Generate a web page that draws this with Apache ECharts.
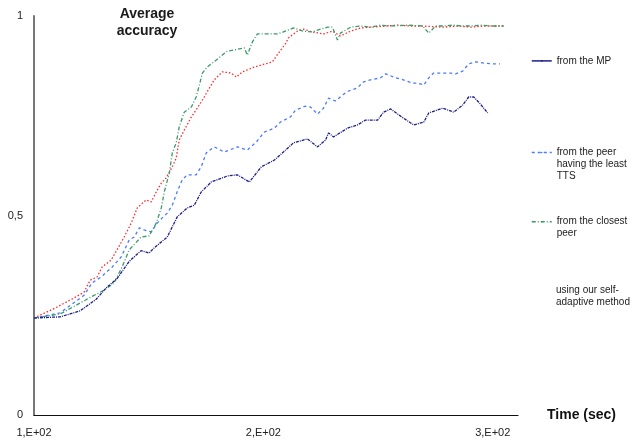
<!DOCTYPE html>
<html><head><meta charset="utf-8">
<script src="https://cdn.jsdelivr.net/npm/echarts@6/dist/echarts.min.js"></script>
<style>html,body{margin:0;padding:0;background:#fff}#c{width:636px;height:443px}</style>
</head><body><div id="c"></div>
<script>
const seriesNames = ['from the MP', 'from the peer having the least TTS', 'from the closest peer', 'using our self-adaptive method'];
const legendLabels = ['from the MP', 'from the peer\nhaving the least\nTTS', 'from the closest\npeer', 'using our self-\nadaptive method'];
const xTickLabels = ['1,E+02', '2,E+02', '3,E+02'];
const xTickValues = [100, 200, 300];
const yTickLabels = ['0', '0,5', '1'];
const yTickValues = [0, 0.5, 1];
const chartTitle = 'Average\naccuracy';
const xAxisName = 'Time (sec)';

const mpTime = [100,111.4,120.1,127.1,131.4,136.2,141.5,146.7,150.2,152.4,158.1,162.4,166.8,169.9,172.9,177.3,184.3,188.6,193.9,199.1,204.8,208.7,213.1,219.2,223.6,227.1,228.4,230.6,236.7,241.0,244.5,249.8,252.4,255.5,259.8,265.5,269.9,272.1,278.2,283.0,286.9,289.5,291.7,293.9,297.8];
const mpAcc = [0.243,0.246,0.261,0.290,0.318,0.342,0.385,0.412,0.406,0.419,0.446,0.496,0.519,0.526,0.559,0.584,0.599,0.602,0.584,0.622,0.639,0.659,0.682,0.692,0.672,0.689,0.707,0.697,0.719,0.727,0.739,0.739,0.759,0.767,0.749,0.727,0.734,0.757,0.769,0.759,0.777,0.797,0.797,0.784,0.757];

const ttsTime = [100,111.4,121.8,125.3,129.3,134.1,138.0,141.5,143.7,145.9,148.0,151.1,153.7,155.9,158.1,160.3,162.4,164.6,166.8,170.7,172.9,175.1,178.6,183.0,188.6,193.0,196.9,200.4,204.8,207.4,211.8,214.0,218.3,220.5,223.6,226.2,228.4,231.4,234.5,237.1,241.0,243.7,246.7,251.1,253.3,256.8,259.8,265.1,267.2,269.9,272.1,274.2,278.2,281.7,283.8,286.9,289.5,292.6,296.1,300.4,303.1];
const ttsAcc = [0.243,0.256,0.300,0.331,0.346,0.371,0.396,0.439,0.446,0.469,0.464,0.459,0.481,0.494,0.506,0.526,0.559,0.589,0.602,0.602,0.622,0.657,0.672,0.659,0.672,0.664,0.684,0.709,0.719,0.734,0.747,0.764,0.774,0.772,0.754,0.769,0.794,0.787,0.802,0.812,0.820,0.835,0.840,0.845,0.855,0.847,0.842,0.832,0.832,0.827,0.845,0.857,0.857,0.857,0.855,0.862,0.880,0.885,0.882,0.880,0.880];

const closeTime = [100,111.4,124.9,130.6,134.9,138.4,141.5,146.7,150.2,153.3,155.5,156.8,159.0,160.3,162.0,163.3,165.5,168.6,170.7,172.1,173.4,175.5,179.5,184.3,187.3,191.7,193.0,195.2,197.4,202.6,206.1,208.7,213.1,217.5,221.4,224.9,228.0,230.1,232.3,233.6,238.0,242.4,246.7,251.1,255.5,262.9,269.4,272.1,275.1,278.6,282.5,286.9,290.4,295.6,299.1,304.8];
const closeAcc = [0.243,0.253,0.296,0.313,0.331,0.371,0.414,0.446,0.449,0.481,0.519,0.559,0.607,0.657,0.682,0.722,0.759,0.772,0.797,0.827,0.857,0.872,0.890,0.912,0.915,0.920,0.902,0.935,0.955,0.955,0.955,0.960,0.970,0.962,0.960,0.967,0.972,0.972,0.940,0.957,0.972,0.975,0.972,0.977,0.975,0.977,0.975,0.957,0.975,0.975,0.977,0.975,0.975,0.977,0.975,0.975];

const selfTime = [100,109.2,118.3,121.8,124.5,127.5,129.7,133.6,136.2,139.3,142.4,145.0,148.9,151.1,153.3,155.5,157.6,160.3,162.0,163.3,165.5,168.6,171.2,174.2,175.5,178.6,182.1,186.0,188.2,190.8,196.1,203.9,206.6,209.6,210.9,214.8,217.5,221.4,226.2,230.1,233.6,238.0,242.4,246.7,258.5,264.2,268.6,278.6,284.7,290.4,296.1,304.8];
const selfAcc = [0.243,0.268,0.296,0.308,0.338,0.346,0.371,0.388,0.414,0.446,0.481,0.519,0.539,0.534,0.559,0.581,0.594,0.622,0.644,0.689,0.714,0.747,0.769,0.797,0.810,0.840,0.860,0.857,0.847,0.860,0.872,0.885,0.907,0.930,0.945,0.962,0.967,0.960,0.955,0.962,0.950,0.962,0.970,0.972,0.977,0.975,0.975,0.972,0.975,0.972,0.975,0.975];

const seriesColors = ['#1c1c8a', '#4a7bff', '#3a9a6a', '#ff2a2a'];
const seriesDash = [[3, 1, 1, 1], [3, 3], [4, 2, 1, 2], [1.5, 2]];
const legendFirstLineY = [61, 152, 222, 291];

const pairs = (t, v) => t.map((x, i) => [x, v[i]]);
const allData = [pairs(mpTime, mpAcc), pairs(ttsTime, ttsAcc), pairs(closeTime, closeAcc), pairs(selfTime, selfAcc)];
const FONT = 'Liberation Sans, Arial, sans-serif';
const LH = 11.8;

// pad with blank lines above so the first text line sits level with the legend icon
const padLabel = s => { const n = s.split('\n').length; return ' \n'.repeat(n - 1) + s; };
const nLines = s => 2 * s.split('\n').length - 1;

const chart = echarts.init(document.getElementById('c'), null, {renderer: 'canvas'});
chart.setOption({
  animation: false,
  backgroundColor: '#fff',
  grid: {left: 34, right: 118, top: 16, bottom: 28, containLabel: false},
  graphic: [{
    type: 'text', x: 147, y: 6,
    style: {text: chartTitle, textAlign: 'center', fontSize: 14, fontWeight: 'bold', lineHeight: 17, fontFamily: FONT, fill: '#1a1a1a'}
  }],
  legend: seriesNames.map((n, i) => ({
    data: [i === 3 ? {name: n, icon: 'none'} : n],
    left: 531, top: Math.round(legendFirstLineY[i] - nLines(legendLabels[i]) * LH / 2), padding: 0,
    itemWidth: 20, itemHeight: 2,
    formatter: name => padLabel(legendLabels[seriesNames.indexOf(name)]),
    lineStyle: i === 0 ? {type: 'solid', width: 1.5} : {width: 1.5},
    textStyle: {fontSize: 10, fontFamily: FONT, color: '#222', lineHeight: LH},
    selectedMode: false
  })),
  xAxis: {
    type: 'value', min: 100, max: 311, interval: 100,
    name: xAxisName, nameLocation: 'end', nameGap: 29,
    nameTextStyle: {fontSize: 14, fontWeight: 'bold', fontFamily: FONT, color: '#111', verticalAlign: 'middle'},
    axisLine: {show: true, lineStyle: {color: '#111', width: 1.2}},
    axisTick: {show: false}, splitLine: {show: false},
    axisLabel: {fontSize: 11, fontFamily: FONT, color: '#222', margin: 12, showMaxLabel: false,
      formatter: v => { const k = xTickValues.indexOf(v); return k >= 0 ? xTickLabels[k] : ''; }}
  },
  yAxis: {
    type: 'value', min: 0, max: 1, interval: 0.5,
    axisLine: {show: true, lineStyle: {color: '#777', width: 2}},
    axisTick: {show: false}, splitLine: {show: false},
    axisLabel: {fontSize: 11, fontFamily: FONT, color: '#222', margin: 11,
      formatter: v => { const k = yTickValues.indexOf(v); return k >= 0 ? yTickLabels[k] : ''; }}
  },
  series: seriesNames.map((n, i) => ({
    name: n, type: 'line', data: allData[i], showSymbol: false, symbol: 'none',
    lineStyle: {color: seriesColors[i], width: 1.3, type: seriesDash[i]},
    itemStyle: {color: seriesColors[i]},
    z: 2 + (i === 0 ? 3 : i === 3 ? 1 : 2)
  }))
});
</script></body></html>
